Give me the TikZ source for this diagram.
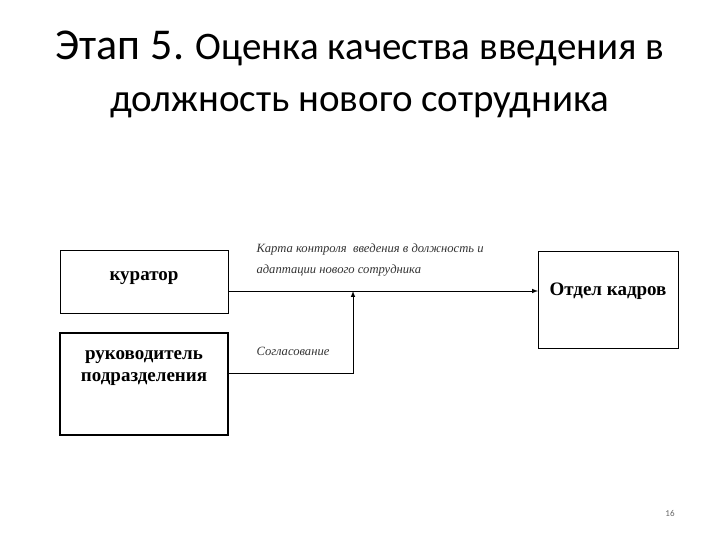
\documentclass[tikz,border=0pt]{standalone}
\usepackage{fontspec}
\setmainfont{Liberation Serif}
\newfontfamily\titlefont{Carlito}
\begin{document}
\begin{tikzpicture}[x=1pt,y=-1pt,
  boxa/.style={font=\bfseries\fontsize{19}{22}\selectfont,align=center},
  lbl/.style={font=\itshape\fontsize{12.6}{21}\selectfont,align=left,anchor=west,text=black!80},
  conn/.style={line width=1pt}]
\useasboundingbox (0,0) rectangle (720,540);
\node[font=\titlefont\fontsize{39}{52}\selectfont,align=center] (title) at (360,74)
  {{\fontsize{44}{52}\selectfont Этап 5.} Оценка качества введения в\\должность нового сотрудника};
\draw[line width=1pt] (60,250) rectangle (228,313);
\node[boxa] (kur) at (144,278) {куратор};
\coordinate (kurE) at (228,291);
\draw[line width=1.8pt] (60,333) rectangle (228,435);
\node[boxa] (ruk) at (144,368) {руководитель\\подразделения};
\coordinate (rukE) at (228,373);
\draw[line width=1pt] (538,251) rectangle (678,348);
\node[boxa] (ok) at (608,291) {Отдел кадров};
\coordinate (okW) at (538,291);
\coordinate (j) at (353,373);
\coordinate (jt) at (353,291);
\draw[conn,-latex] (kurE) -- (okW);
\draw[conn,-latex] (rukE) -- (j) -- (jt);
\node[lbl] (l1) at (253,260) {Карта контроля\ \ введения в должность и\\адаптации нового сотрудника};
\node[lbl] (l2) at (253,351) {Согласование};
\node[font=\titlefont\fontsize{9}{10}\selectfont,text=black!60] (pg) at (670,513) {16};
\end{tikzpicture}
\end{document}
